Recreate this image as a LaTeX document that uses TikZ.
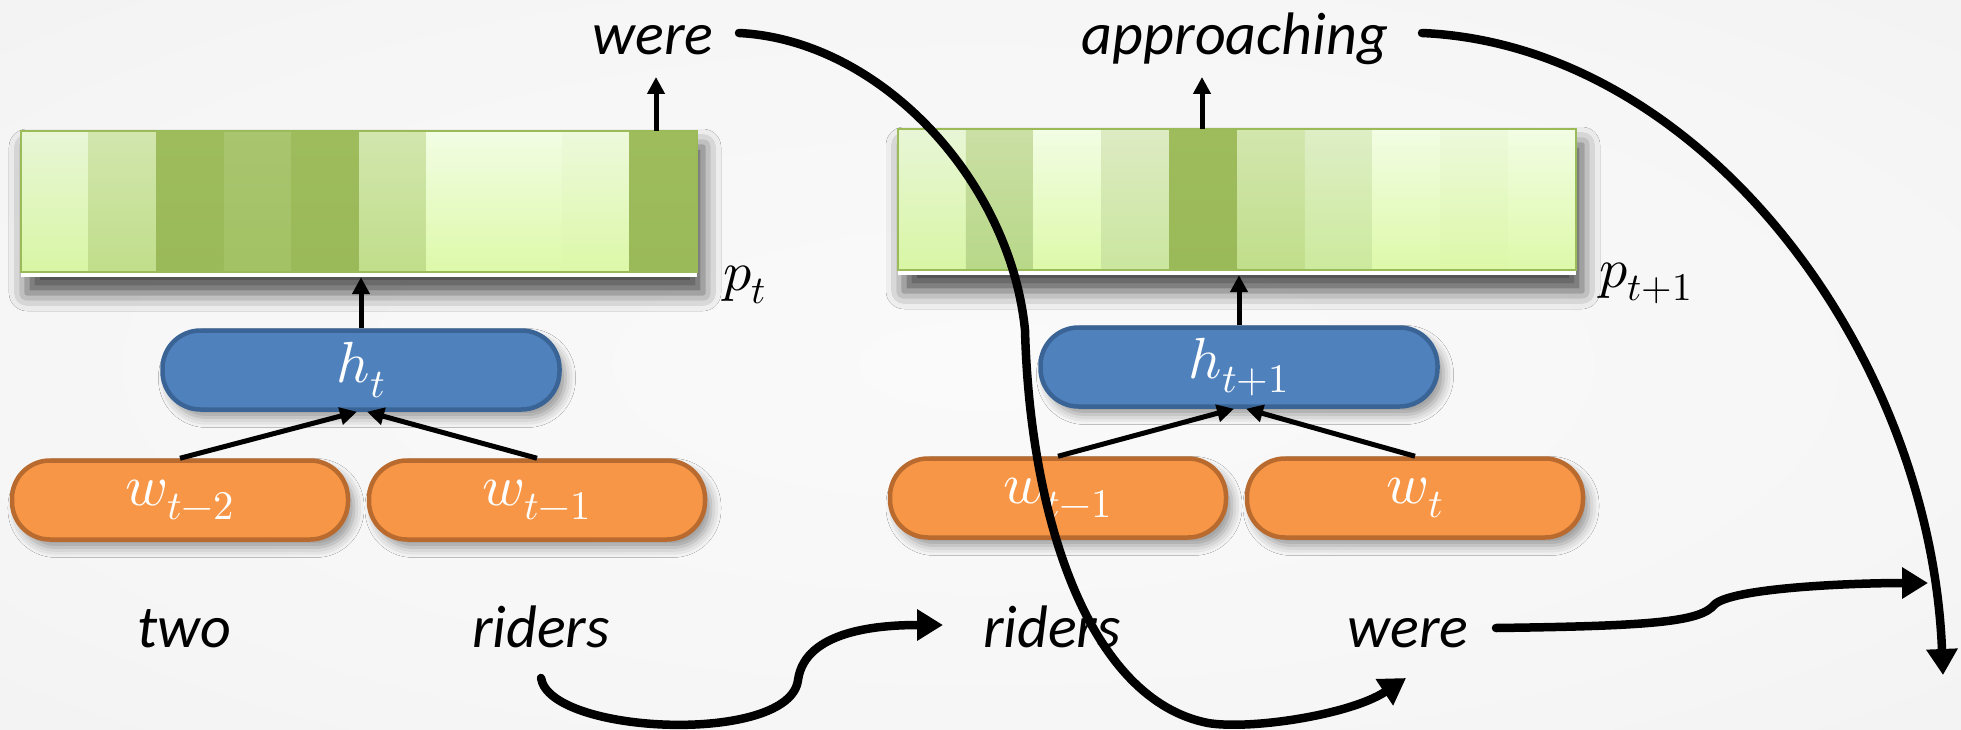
\documentclass[tikz,border=0pt]{standalone}
\usepackage{fontspec}
\usepackage{unicode-math}
\setmainfont{Carlito}
\setmathfont{Latin Modern Math}
\usetikzlibrary{arrows.meta,shadows.blur}

\definecolor{bgc0}{HTML}{FAFAFA}
\definecolor{bgc1}{HTML}{F6F6F6}
\definecolor{bgc2}{HTML}{EEEEEE}
\definecolor{bgc3}{HTML}{E8E8E8}
\pgfdeclareradialshading{bgvig}{\pgfpoint{0bp}{0bp}}{color(0bp)=(bgc0); color(25bp)=(bgc1); color(50bp)=(bgc2); color(72bp)=(bgc3)}

\definecolor{cLtop}{HTML}{F2FDE4}\definecolor{cLbot}{HTML}{DDF9A9}
\definecolor{cAtop}{HTML}{E8F6D6}\definecolor{cAbot}{HTML}{D8F6A5}
\definecolor{cBtop}{HTML}{EDF9DC}\definecolor{cBbot}{HTML}{DCF8A7}
\definecolor{cMtop}{HTML}{D2E6AE}\definecolor{cMbot}{HTML}{C0DE8A}
\definecolor{cNtop}{HTML}{A9C56F}\definecolor{cNbot}{HTML}{A2C264}
\definecolor{cDtop}{HTML}{9EBC5C}\definecolor{cDbot}{HTML}{9AB958}
\definecolor{cPtop}{HTML}{CADFA4}\definecolor{cPbot}{HTML}{B8D889}
\definecolor{cQtop}{HTML}{DDEBC3}\definecolor{cQbot}{HTML}{CAE69E}
\definecolor{cRtop}{HTML}{DEEEC6}\definecolor{cRbot}{HTML}{CCEA9D}
\definecolor{barline}{HTML}{9BBB59}
\definecolor{hfill}{HTML}{4F81BD}
\definecolor{hline}{HTML}{3A6496}
\definecolor{wfill}{HTML}{F79646}
\definecolor{wline}{HTML}{B96B2F}

\begin{document}
\begin{tikzpicture}[x=1pt,y=-1pt,
  word/.style={inner sep=0pt,anchor=base,font=\fontsize{60}{66}\selectfont\itshape},
  plabel/.style={inner sep=0pt,anchor=base,font=\fontsize{56}{60}\selectfont},
  barbox/.style={draw=none,fill=white,inner sep=0pt,minimum width=676pt,minimum height=146pt,
    blur shadow={shadow xshift=6pt,shadow yshift=-16pt,shadow blur radius=18pt,shadow opacity=70}},
  pill/.style={rounded corners=38pt,minimum width=397pt,minimum height=79pt,line width=4.5pt,
    text=white,font=\fontsize{58}{60}\selectfont,
    blur shadow={shadow xshift=6pt,shadow yshift=-8pt,shadow blur radius=10pt,shadow opacity=40}},
  hpill/.style={pill,fill=hfill,draw=hline},
  wpill/.style={pill,fill=wfill,draw=wline},
  smallarr/.style={line width=5pt,-{Triangle[length=17pt,width=17pt]}},
  bigarr/.style={line width=8.5pt,line cap=round,-{Triangle[length=26pt,width=30pt]}}
]
\useasboundingbox (0,0) rectangle (1961,730);
\shade[shading=bgvig] (0,0) rectangle (1961,730);

% bars
\node[barbox] (bar1) at (359,204) {};
\foreach \c [count=\i from 0] in {A,M,D,N,D,M,L,L,B,D}
  \shade[top color=c\c top,bottom color=c\c bot] ({21+67.6*\i},131) rectangle ++(67.6,141);
\draw[barline,line width=1.5pt] (21,131) rectangle (697,272);

\node[barbox,minimum width=678pt] (bar2) at (1237,202) {};
\foreach \c [count=\i from 0] in {A,P,L,Q,D,M,R,L,B,L}
  \shade[top color=c\c top,bottom color=c\c bot] ({898+67.8*\i},129) rectangle ++(67.8,141);
\draw[barline,line width=1.5pt] (898,129) rectangle (1576,270);

% pills
\node[hpill] (h1) at (361,370) {$h_t$};
\node[wpill,minimum width=336pt] (w1) at (180,500) {$w_{t-2}$};
\node[wpill,minimum width=336pt] (w2) at (537,500) {$w_{t-1}$};
\node[hpill] (h2) at (1239,367) {$h_{t+1}$};
\node[wpill,minimum width=336pt] (w3) at (1058,498) {$w_{t-1}$};
\node[wpill,minimum width=336pt] (w4) at (1415,498) {$w_t$};

% labels
\node[plabel] (pt) at (745,290) {$p_t$};
\node[plabel] (pt1) at (1646,287) {$p_{t+1}$};

% words
\node[word] (were1) at (653,55) {were};
\node[word] (appr) at (1235,55) {approaching};
\node[word] (two) at (184,647) {two};
\node[word] (r1) at (541,647) {riders};
\node[word] (r2) at (1052,647) {riders};
\node[word] (were2) at (1408,647) {were};

% small arrows
\draw[smallarr] (w1.north) -- ([xshift=-4pt]h1.south);
\draw[smallarr] (w2.north) -- ([xshift=6pt]h1.south);
\draw[smallarr] (w3.north) -- ([xshift=-5pt]h2.south);
\draw[smallarr] (w4.north) -- ([xshift=7pt]h2.south);
\draw[smallarr] (h1.north) -- (h1.north |- bar1.south);
\draw[smallarr] (h2.north) -- (h2.north |- bar2.south);
\path ([shift={(3,22)}]were1.base) coordinate (t1);
\path ([shift={(-33,22)}]appr.base) coordinate (t2);
\draw[smallarr] (t1 |- bar1.north) -- (t1);
\draw[smallarr] (t2 |- bar2.north) -- (t2);

% big curves
\coordinate (e1) at (1943,675);
\coordinate (e2) at (1928,583);
\draw[bigarr] ([shift={(86,-22)}]were1.base) .. controls (880,40) and (1010,180) .. (1025,330)
  .. controls (1030,520) and (1090,700) .. (1208,723)
  .. controls (1250,730) and (1350,715) .. ([shift={(-2,31)}]were2.base);
\draw[bigarr] ([shift={(187,-22)}]appr.base) .. controls (1700,45) and (1930,350) .. (e1);
\draw[bigarr] ([shift={(0,31)}]r1.base) .. controls (550,735) and (790,745) .. (798,680)
  .. controls (805,630) and (880,625) .. ([shift={(-109,-22)}]r2.base);
\draw[bigarr] ([shift={(88,-19)}]were2.base) .. controls (1650,626) and (1700,622) .. (1714,605)
  .. controls (1730,588) and (1850,583) .. (e2);
\end{tikzpicture}
\end{document}
